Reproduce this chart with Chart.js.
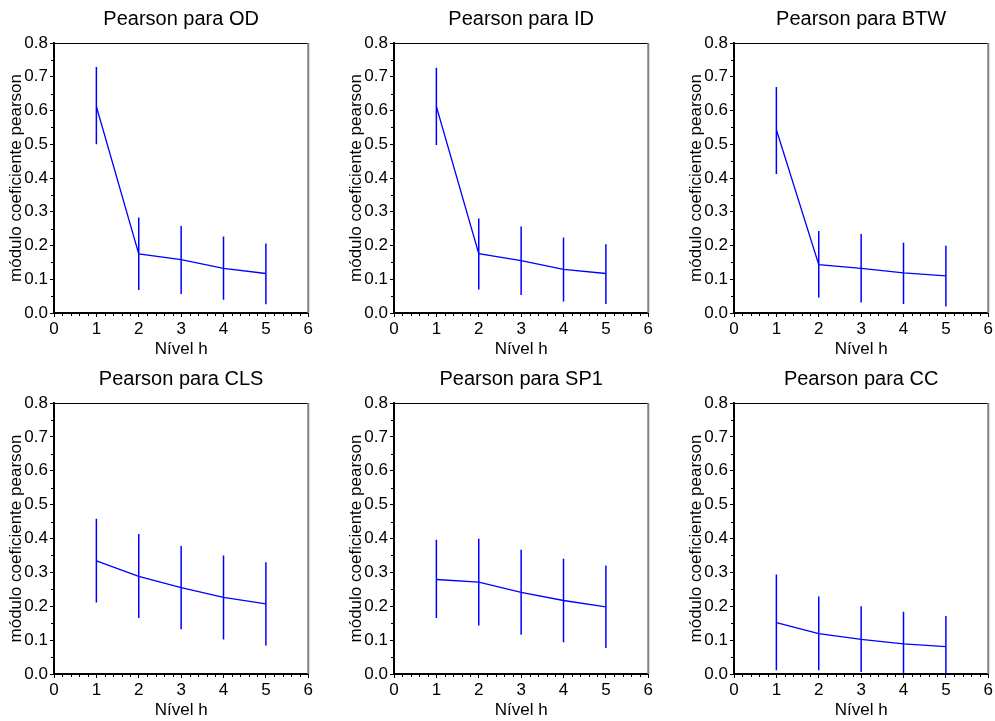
<!DOCTYPE html>
<html><head><meta charset="utf-8">
<script src="https://cdn.jsdelivr.net/npm/chart.js@4/dist/chart.umd.min.js"></script>
<style>
html,body{margin:0;padding:0;background:#fff;overflow:hidden;width:995px;height:721px;}
canvas{position:absolute;}
</style></head><body>
<canvas id="c0" width="315" height="360" style="left:0px;top:0px"></canvas>
<canvas id="c1" width="315" height="360" style="left:340px;top:0px"></canvas>
<canvas id="c2" width="315" height="360" style="left:680px;top:0px"></canvas>
<canvas id="c3" width="315" height="361" style="left:0px;top:360px"></canvas>
<canvas id="c4" width="315" height="361" style="left:340px;top:360px"></canvas>
<canvas id="c5" width="315" height="361" style="left:680px;top:360px"></canvas>
<script>
// ---- data ----
const levels = [1, 2, 3, 4, 5];
const panelTitles = ['Pearson para OD', 'Pearson para ID', 'Pearson para BTW', 'Pearson para CLS', 'Pearson para SP1', 'Pearson para CC'];
const xTickLabels = ['0', '1', '2', '3', '4', '5', '6'];
const yTickLabels = ['0.0', '0.1', '0.2', '0.3', '0.4', '0.5', '0.6', '0.7', '0.8'];

const odMean  = [0.612, 0.175, 0.158, 0.132, 0.117];
const odLow   = [0.500, 0.068, 0.056, 0.039, 0.026];
const odHigh  = [0.729, 0.283, 0.258, 0.227, 0.206];

const idMean  = [0.612, 0.176, 0.155, 0.129, 0.117];
const idLow   = [0.498, 0.070, 0.053, 0.034, 0.027];
const idHigh  = [0.727, 0.280, 0.256, 0.224, 0.204];

const btwMean = [0.543, 0.143, 0.132, 0.119, 0.110];
const btwLow  = [0.412, 0.046, 0.031, 0.027, 0.019];
const btwHigh = [0.670, 0.243, 0.234, 0.208, 0.199];

const clsMean = [0.334, 0.288, 0.255, 0.226, 0.207];
const clsLow  = [0.211, 0.165, 0.132, 0.102, 0.084];
const clsHigh = [0.458, 0.413, 0.378, 0.350, 0.330];

const sp1Mean = [0.279, 0.271, 0.241, 0.217, 0.198];
const sp1Low  = [0.165, 0.143, 0.116, 0.094, 0.077];
const sp1High = [0.396, 0.399, 0.367, 0.340, 0.320];

const ccMean  = [0.152, 0.119, 0.102, 0.089, 0.081];
const ccLow   = [0.011, 0.011, 0.006, 0.002, 0.002];
const ccHigh  = [0.294, 0.229, 0.200, 0.184, 0.171];

const xAxisTitle = 'Nível h';
const yAxisTitle = 'módulo coeficiente pearson';

// ---- drawing ----
const FONT = '"Liberation Sans", Arial, Helvetica, sans-serif';
const BLUE = '#0000ff';

const framePlugin = {
  id: 'frame',
  afterDraw(chart) {
    const ctx = chart.ctx, a = chart.chartArea;
    const xs = chart.scales.x, ys = chart.scales.y;
    ctx.save();
    ctx.strokeStyle = '#000'; ctx.lineWidth = 1;
    ctx.beginPath(); ctx.moveTo(a.left, a.top + 0.5); ctx.lineTo(a.right, a.top + 0.5); ctx.stroke();
    ctx.strokeStyle = '#808080'; ctx.lineWidth = 2;
    ctx.beginPath(); ctx.moveTo(a.right, a.top); ctx.lineTo(a.right, a.bottom); ctx.stroke();
    ctx.strokeStyle = '#000'; ctx.lineWidth = 1;
    ctx.beginPath();
    for (let k = 0; k <= 30; k++) {
      if (k % 5 === 0) continue;
      const px = Math.round(xs.getPixelForValue(k * 0.2)) + 0.5;
      ctx.moveTo(px, a.bottom); ctx.lineTo(px, a.bottom + 3);
    }
    for (let k = 0; k <= 16; k++) {
      if (k % 2 === 0) continue;
      const py = Math.round(ys.getPixelForValue(k * 0.05)) + 0.5;
      ctx.moveTo(a.left, py); ctx.lineTo(a.left - 3, py);
    }
    ctx.stroke();
    ctx.restore();
  }
};

function makeChart(id, title, mean, low, high) {
  const datasets = [{
    data: levels.map((x, i) => ({ x: x, y: mean[i] })),
    borderColor: BLUE, borderWidth: 1.3, pointRadius: 0, tension: 0, fill: false
  }];
  levels.forEach((x, i) => {
    datasets.push({
      data: [{ x: x, y: low[i] }, { x: x, y: high[i] }],
      borderColor: BLUE, borderWidth: 1.5, pointRadius: 0, fill: false
    });
  });
  new Chart(document.getElementById(id), {
    type: 'line',
    data: { datasets: datasets },
    options: {
      responsive: false, animation: false, events: [],
      layout: { padding: { left: 0, right: 6, top: 0, bottom: 0 } },
      plugins: {
        legend: { display: false }, tooltip: { enabled: false },
        title: {
          display: true, text: title, fullSize: false, color: '#000',
          font: { family: FONT, size: 20, weight: 'normal', lineHeight: 1.2 },
          padding: { top: 7, bottom: 12 }
        }
      },
      scales: {
        x: {
          type: 'linear', min: 0, max: 6,
          ticks: {
            stepSize: 1, color: '#000', padding: 2, maxRotation: 0, autoSkip: false,
            font: { family: FONT, size: 17 },
            callback: (v) => xTickLabels[Math.round(v)]
          },
          grid: { drawOnChartArea: false, tickLength: 4, color: '#000', tickWidth: 1 },
          border: { color: '#000', width: 2 },
          title: {
            display: true, text: xAxisTitle, color: '#000',
            font: { family: FONT, size: 17 }, padding: { top: 0, bottom: 0 }
          },
          afterFit: (s) => { s.height = 47; }
        },
        y: {
          type: 'linear', min: 0, max: 0.8,
          ticks: {
            stepSize: 0.1, color: '#000', padding: 2, autoSkip: false,
            font: { family: FONT, size: 17 },
            callback: (v) => yTickLabels[Math.round(v * 10)]
          },
          grid: { drawOnChartArea: false, tickLength: 4, color: '#000', tickWidth: 1 },
          border: { color: '#000', width: 2 },
          title: {
            display: true, text: yAxisTitle, color: '#000',
            font: { family: FONT, size: 17 }, padding: { top: 6, bottom: 0 }
          },
          afterFit: (s) => { s.width = 54; }
        }
      }
    },
    plugins: [framePlugin]
  });
}

makeChart('c0', panelTitles[0], odMean, odLow, odHigh);
makeChart('c1', panelTitles[1], idMean, idLow, idHigh);
makeChart('c2', panelTitles[2], btwMean, btwLow, btwHigh);
makeChart('c3', panelTitles[3], clsMean, clsLow, clsHigh);
makeChart('c4', panelTitles[4], sp1Mean, sp1Low, sp1High);
makeChart('c5', panelTitles[5], ccMean, ccLow, ccHigh);
</script>
</body></html>
